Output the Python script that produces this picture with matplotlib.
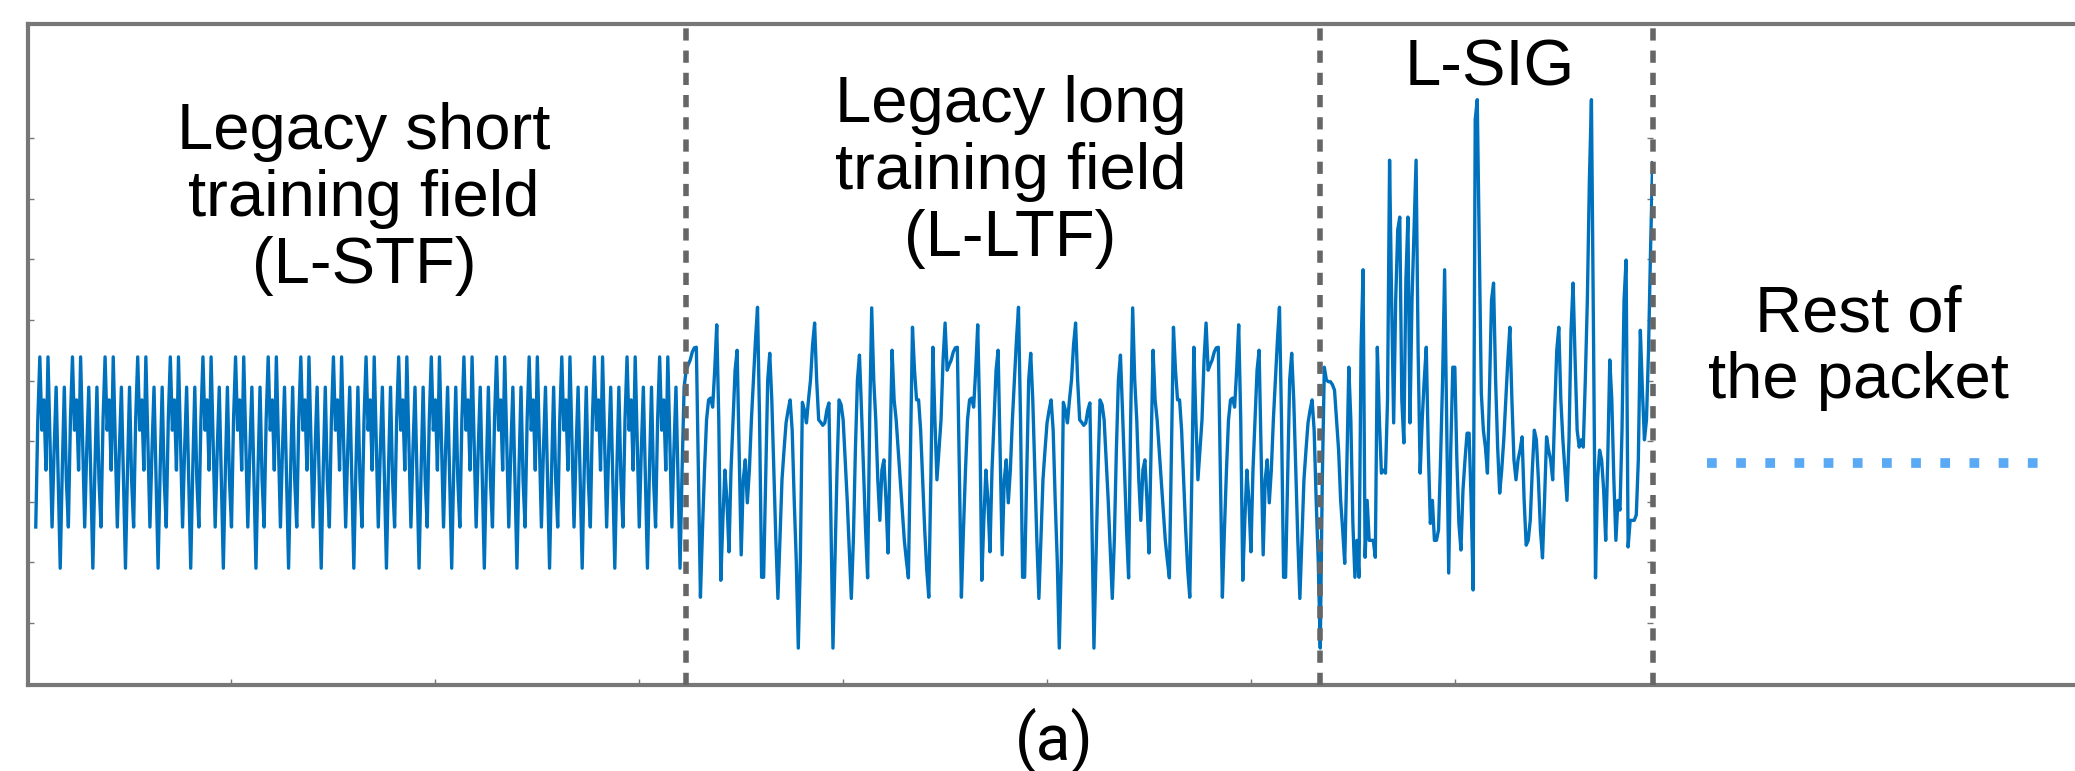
import numpy as np
import matplotlib
matplotlib.use('Agg')
import matplotlib.pyplot as plt

# waveform amplitude, one value per sample
# L-STF: one short training period, the field shows it 20 times over
stf_period = [-1.42, 0.35, 1.39, 0.18, 0.68, -0.48, 1.39, 0.02,
              -1.42, -0.15, 0.89, -0.64, -2.10, -0.48, 0.89, -0.64]
stf_repeats = 20
stf_len = 319

# L-LTF: one long training period (128 samples), repeated in the field
ltf_period = [1.17, 1.26, 1.34, 1.47, 1.54, 1.55, -0.48, -2.58,
              -1.47, -0.48, 0.35, 0.68, 0.71, 0.56, 1.17, 1.92,
              0.35, -2.30, -1.31, -0.48, -0.98, -1.83, -0.48, 0.35,
              1.17, 1.50, -0.15, -1.88, -0.64, -0.31, -1.02, -0.48,
              0.35, 1.01, 1.67, 2.21, 0.35, -2.25, -2.25, -0.64,
              1.01, 1.45, 0.68, -0.48, -1.64, -2.60, -1.64, -0.64,
              -0.15, 0.30, 0.51, 0.68, 0.18, -0.98, -1.97, -3.42,
              -1.97, 0.64, 0.51, 0.30, 0.68, 1.01, 1.59, 1.95,
              1.01, 0.35, 0.31, 0.26, 0.30, 0.51, 0.63, -1.31,
              -3.42, -1.97, -0.48, 0.68, 0.60, 0.35, -0.31, -0.98,
              -1.80, -2.60, -1.64, -0.15, 1.01, 1.42, 0.51, -0.48,
              -1.47, -2.26, 0.35, 2.20, 1.01, 0.35, -0.64, -1.31,
              -0.48, -0.31, -0.98, -1.85, -0.15, 1.50, 0.68, 0.35,
              -0.15, -0.64, -1.14, -1.64, -1.97, -2.26, -0.15, 1.88,
              1.17, 0.68, 0.68, 0.18, -0.64, -1.47, -2.13, -2.58,
              -0.64, 1.55, 0.35, -0.64, -0.15, 0.35, 1.34, 1.95]
ltf_len = 312

# L-SIG symbol
sig_vals = [-0.64, 1.22, 1.01, 0.98, 0.98, 0.93, 0.84, 0.35, -0.15, -0.98,
            -1.47, -2.02, -0.48, 1.22, 0.35, -1.36, -2.25, -1.64, -2.25, 1.50,
            2.83, -1.92, -0.98, -1.64, -1.64, -1.64, -1.92, 1.55, 0.35, -0.53,
            -0.48, -0.53, 0.68, 4.64, 2.33, 0.30, 2.33, 3.49, 3.70, 0.68,
            -0.03, 2.66, 3.70, 0.30, 2.33, 3.49, 4.64, 1.50, -0.53, 0.35,
            1.01, 1.55, -0.15, -1.36, -0.98, -1.64, -1.64, -1.47, -0.31, 1.01,
            2.83, 0.35, -2.18, -0.15, 1.22, 1.22, -0.31, -1.36, -1.80, -0.81,
            -0.31, 0.13, 0.13, -0.98, -2.46, 5.31, 5.64, 3.16, 0.79, 0.18,
            -0.10, -0.53, 0.84, 2.33, 2.61, 1.01, -0.10, -0.86, -0.48, 0.02,
            0.68, 1.34, 1.88, 0.68, -0.31, -0.64, -0.31, -0.15, 0.07, -0.98,
            -1.72, -1.64, -1.31, -0.48, 0.18, 0.02, -0.64, -1.47, -1.93, -0.98,
            0.07, -0.15, -0.31, -0.64, 0.51, 1.50, 1.88, 0.68, 0.02, -0.48,
            -0.98, 0.02, 1.83, 2.61, 1.34, 0.18, -0.10, 0.02, -0.10, 1.01,
            2.33, 4.31, 5.64, 1.83, -2.26, -0.64, -0.15, -0.31, -0.81, -1.64,
            -0.31, 1.34, 0.68, -0.64, -1.64, -0.98, -1.14, 0.18, 2.33, 2.99,
            -1.75, -1.31, -1.31, -1.31, -1.22, -0.31, 1.83, 0.84, 0.02, 0.35,
            1.50, 3.16, 4.60]

stf_start = 4                 # first plotted sample
field_edges = [323, 634, 797]  # sample index where L-STF, L-LTF, L-SIG end
field_labels = ['Legacy short\ntraining field\n(L-STF)',
                'Legacy long\ntraining field\n(L-LTF)',
                'L-SIG']
rest_label = 'Rest of\nthe packet'
panel_label = '(a)'

wave = (stf_period * stf_repeats)[:stf_len] + (ltf_period * 3)[:ltf_len] + sig_vals
x = np.arange(stf_start, stf_start + len(wave))

W, H = 2075, 771
fig = plt.figure(figsize=(W / 100, H / 100), dpi=100)
plt.rcParams['font.family'] = ['Liberation Sans', 'DejaVu Sans']

frame_col = '#777777'
left, bottom, top = 27.6 / W, (H - 685) / H, (H - 24) / H

# outer frame running off the right edge
bg = fig.add_axes([left, bottom, 1.2, top - bottom])
bg.set_xticks([])
bg.set_yticks([])
for s in bg.spines.values():
    s.set_color(frame_col)
    s.set_linewidth(3.0)

ax = fig.add_axes([left, bottom, (1653 - 27.6) / W, top - bottom])
ax.patch.set_alpha(0)
for s in ax.spines.values():
    s.set_visible(False)
ax.plot(x, wave, color='#0072BD', lw=2.4, zorder=2)
for e in field_edges:
    ax.axvline(e, color='#666666', lw=4, ls=(0, (2.2, 1.8)), zorder=3,
               clip_on=False)

ax.set_xlim(0, 797.2)
ax.set_ylim(-4.03, 6.89)
ax.set_xticks(np.arange(100, 800, 100))
ax.set_yticks(np.arange(-3, 6))
ax.tick_params(direction='in', length=4, width=1, colors=frame_col,
               left=True, right=True, bottom=True, top=False,
               labelleft=False, labelbottom=False)

fs = 47
ax.text(165, 4.0, field_labels[0], ha='center', va='center', fontsize=fs,
        linespacing=1.15)
ax.text(482, 4.45, field_labels[1], ha='center', va='center', fontsize=fs,
        linespacing=1.15)
ax.text(717, 6.15, field_labels[2], ha='center', va='center', fontsize=fs)
ax.text(898, 1.54, rest_label, ha='center', va='center', fontsize=fs,
        linespacing=1.15, clip_on=False)
ax.plot([823.6, 987], [-0.36, -0.36], color='#5aa9f5', lw=7,
        ls=(0, (1, 2)), solid_capstyle='butt', dash_capstyle='butt',
        clip_on=False)

fig.text(1054 / W, 1 - 741 / H, panel_label, ha='center', va='center',
         fontsize=46, family=['Roboto', 'DejaVu Sans'])

fig.savefig('out.png', dpi=100, facecolor='white')
